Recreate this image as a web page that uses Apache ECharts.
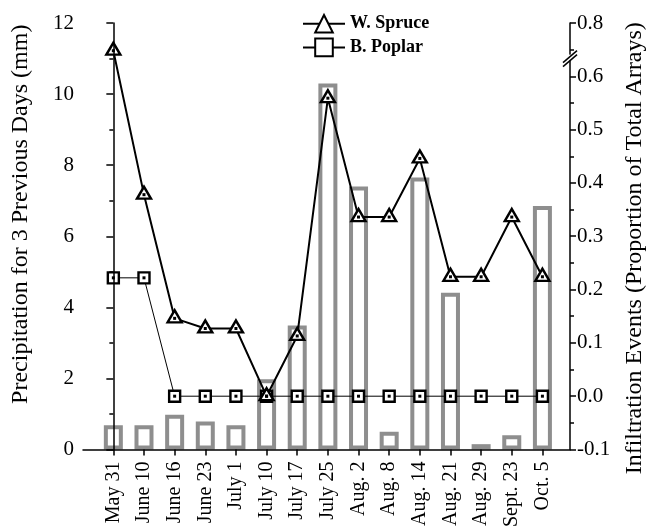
<!DOCTYPE html>
<html>
<head>
<meta charset="utf-8">
<script src="https://cdn.jsdelivr.net/npm/echarts@6/dist/echarts.min.js"></script>
<style>
html,body{margin:0;padding:0;background:#fff;}
#chart{width:654px;height:528px;}
</style>
</head>
<body>
<div id="chart"></div>
<script>
const categories = ['May 31','June 10','June 16','June 23','July 1','July 10','July 17','July 25','Aug. 2','Aug. 8','Aug. 14','Aug. 21','Aug. 29','Sept. 23','Oct. 5'];
const precipitation = [0.68,0.68,0.98,0.79,0.68,1.98,3.49,10.3,7.4,0.5,7.65,4.41,0.15,0.4,6.85];
const wSpruce = [0.648,0.378,0.146,0.127,0.127,0.0,0.113,0.559,0.336,0.336,0.446,0.224,0.224,0.336,0.224];
const bPoplar = [0.222,0.222,0,0,0,0,0,0,0,0,0,0,0,0,0];
const leftTicks = [0,2,4,6,8,10,12];
const rightTickLabels = ['-0.1','0.0','0.1','0.2','0.3','0.4','0.5','0.6','0.8'];

const FONT = '"Liberation Serif", "DejaVu Serif", serif';
const idx = categories.map((c,i)=>i);
const pair = arr => arr.map((v,i)=>[i,v]);

const chart = echarts.init(document.getElementById('chart'), null, {renderer:'canvas'});
const axisLineStyle = {color:'#000', width:1.5};

const option = {
  animation:false,
  backgroundColor:'#fff',
  grid:{left:83, right:84, top:23, bottom:78.5, containLabel:false, outerBoundsMode:'none'},
  legend:{
    orient:'vertical', left:297, top:9,
    itemWidth:42, itemHeight:22, itemGap:4,
    data:['W. Spruce','B. Poplar'],
    textStyle:{fontFamily:FONT, fontWeight:'bold', fontSize:18, color:'#000'}
  },
  xAxis:{
    type:'value', min:-0.99, max:14.9, z:5,
    splitLine:{show:false},
    axisLine:{lineStyle:axisLineStyle},
    axisTick:{show:true, length:6, customValues:idx, lineStyle:{color:'#000', width:1.5}},
    axisLabel:{customValues:idx, rotate:90, margin:12, fontFamily:FONT, fontSize:20, color:'#000',
      formatter: v => categories[Math.round(v)]}
  },
  yAxis:[
    {
      type:'value', min:0, max:12, interval:2, position:'left', z:5,
      name:'Precipitation for 3 Previous Days (mm)', nameLocation:'middle', nameGap:50,
      nameTextStyle:{fontFamily:FONT, fontSize:24, color:'#000', padding:[0,0,0,44]},
      splitLine:{show:false},
      axisLine:{show:true, lineStyle:axisLineStyle},
      axisTick:{show:true, length:7, lineStyle:{color:'#000', width:1.5}},
      minorTick:{show:true, splitNumber:2, length:4, lineStyle:{color:'#000', width:1.5}},
      axisLabel:{margin:9, fontFamily:FONT, fontSize:21, color:'#000',
        formatter: v => leftTicks.indexOf(v) >= 0 ? String(v) : ''}
    },
    {
      type:'value', min:-0.1, max:0.7, interval:0.1, position:'right', z:5,
      name:'Infiltration Events (Proportion of Total Arrays)', nameLocation:'middle', nameGap:53,
      nameTextStyle:{fontFamily:FONT, fontSize:24, color:'#000', padding:[0,24,0,0]},
      splitLine:{show:false},
      axisLine:{show:true, lineStyle:axisLineStyle},
      axisTick:{show:true, length:6, lineStyle:{color:'#000', width:1.5}},
      minorTick:{show:true, splitNumber:2, length:4, lineStyle:{color:'#000', width:1.5}},
      axisLabel:{margin:7, fontFamily:FONT, fontSize:21, color:'#000',
        formatter: v => { const k = Math.round((v + 0.1) * 10); return rightTickLabels[k] || ''; }}
    }
  ],
  series:[
    {
      name:'Precipitation', type:'bar', xAxisIndex:0, yAxisIndex:0, z:2,
      data:pair(precipitation), barWidth:19,
      itemStyle:{color:'rgba(255,255,255,0)', borderColor:'#8e8e8e', borderWidth:4}
    },
    {
      name:'B. Poplar', type:'line', yAxisIndex:1, z:3,
      data:pair(bPoplar), symbol:'rect', symbolSize:11,
      lineStyle:{color:'#000', width:1},
      itemStyle:{color:'#fff', borderColor:'#000', borderWidth:2.4}
    },
    {
      name:'W. Spruce', type:'line', yAxisIndex:1, z:4,
      data:pair(wSpruce), symbol:'triangle', symbolSize:[14,12], symbolOffset:[0,-2],
      lineStyle:{color:'#000', width:2},
      itemStyle:{color:'#fff', borderColor:'#000', borderWidth:2.4}
    },
    {
      name:'dotsP', type:'scatter', yAxisIndex:1, z:10, silent:true,
      data:pair(bPoplar), symbol:'rect', symbolSize:3, itemStyle:{color:'#000', opacity:1}
    },
    {
      name:'dotsS', type:'scatter', yAxisIndex:1, z:10, silent:true,
      data:pair(wSpruce), symbol:'rect', symbolSize:3, itemStyle:{color:'#000', opacity:1}
    }
  ]
};
chart.setOption(option);

// axis-break mark on the right axis between 0.6 and 0.8
const xr = chart.convertToPixel({xAxisIndex:0}, 14.9);
const yb = chart.convertToPixel({yAxisIndex:1}, 0.635);
chart.setOption({
  graphic:[
    {type:'rect', shape:{x:xr-3, y:yb-3, width:6, height:6}, style:{fill:'#fff'}, z:100},
    {type:'line', shape:{x1:xr-7, y1:yb+5, x2:xr+7, y2:yb-7}, style:{stroke:'#000', lineWidth:1.5}, z:101},
    {type:'line', shape:{x1:xr-7, y1:yb+9, x2:xr+7, y2:yb-3}, style:{stroke:'#000', lineWidth:1.5}, z:101}
  ]
});
</script>
</body>
</html>
